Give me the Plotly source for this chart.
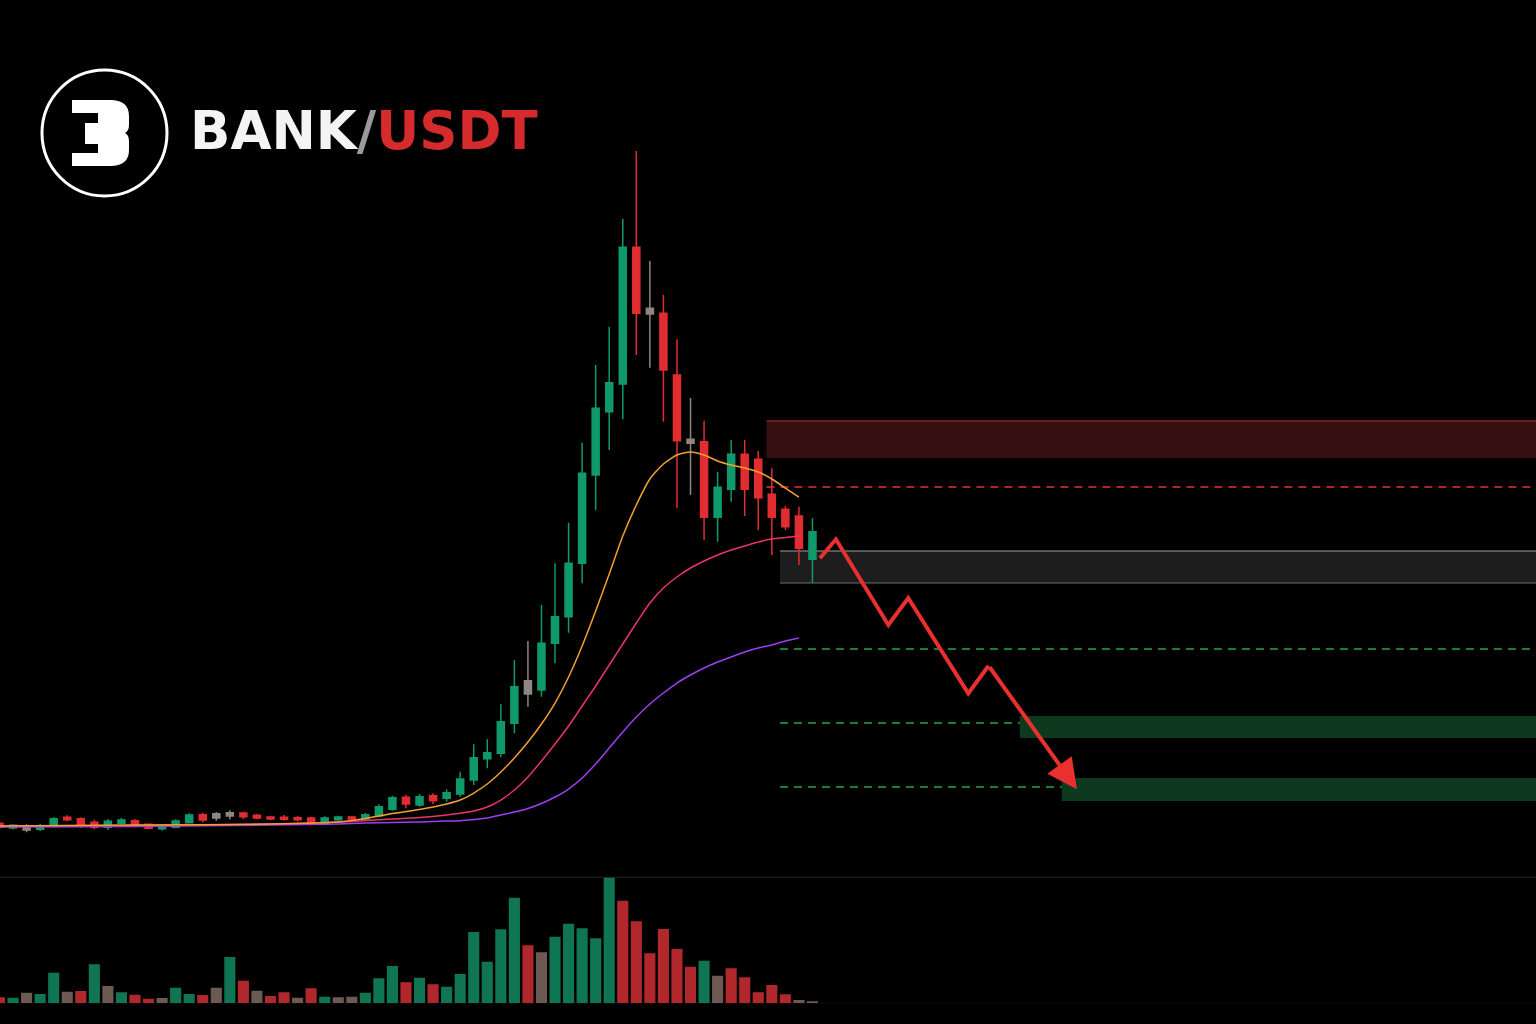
import plotly.graph_objects as go

# ---------------- data (prices in 0.001 USDT, volume in K) ----------------
idx = list(range(61))
open_ = [52.7, 48.0, 49.3, 46.7, 50.3, 58.7, 57.3, 53.7, 48.7, 52.7,
         55.3, 51.7, 47.3, 48.7, 53.3, 61.3, 58.0, 60.0, 63.0, 60.7,
         59.0, 58.7, 58.3, 58.0, 52.0, 56.3, 59.0, 57.0, 60.0, 66.7,
         78.7, 71.0, 80.3, 77.7, 82.0, 96.0, 117.3, 122.7, 152.7, 182.0,
         186.0, 232.7, 259.3, 312.7, 401.0, 464.3, 492.0, 628.7, 567.7, 562.7,
         501.0, 436.7, 434.3, 358.7, 386.7, 421.7, 416.7, 381.7, 366.7, 360.0,
         316.7]
high = [53.7, 51.7, 51.7, 52.0, 58.7, 60.7, 58.7, 56.3, 57.0, 58.0,
        57.0, 52.3, 50.3, 56.7, 62.7, 63.3, 64.0, 65.7, 64.3, 62.0,
        60.3, 61.0, 60.0, 59.3, 59.7, 60.3, 60.0, 63.0, 71.7, 80.3,
        81.0, 82.0, 82.7, 86.7, 104.3, 131.7, 136.7, 171.7, 216.0, 235.0,
        271.0, 312.7, 353.3, 433.3, 511.0, 549.3, 657.0, 725.0, 615.0, 581.0,
        536.7, 478.0, 455.3, 404.3, 436.0, 436.0, 425.0, 407.7, 370.0, 369.3,
        357.7]
low = [47.0, 46.5, 43.7, 45.0, 49.3, 54.7, 48.3, 46.7, 46.0, 51.3,
       48.7, 46.7, 45.3, 47.7, 52.7, 53.7, 55.3, 56.7, 57.0, 56.7,
       55.7, 55.3, 54.7, 50.7, 51.0, 55.0, 56.0, 56.0, 58.7, 65.3,
       67.7, 69.3, 72.0, 74.3, 79.3, 91.0, 107.7, 118.7, 142.7, 169.3,
       179.3, 212.7, 243.3, 292.7, 366.0, 426.0, 456.7, 521.0, 508.3, 454.3,
       367.7, 381.0, 336.0, 334.3, 374.3, 360.0, 346.0, 321.0, 346.0, 311.0,
       293.3]
close = [48.7, 50.7, 46.0, 50.3, 57.3, 56.3, 50.7, 48.7, 54.7, 56.0,
         50.7, 47.7, 49.0, 55.0, 61.0, 56.0, 62.3, 63.3, 59.3, 58.0,
         57.0, 56.7, 56.3, 52.0, 58.0, 59.0, 57.0, 61.3, 69.3, 78.3,
         72.0, 79.3, 75.3, 83.3, 97.0, 118.3, 123.3, 154.3, 189.3, 195.3,
         232.7, 259.3, 312.7, 402.7, 467.7, 493.3, 628.7, 562.7, 562.0, 506.0,
         435.3, 432.7, 358.7, 388.7, 421.7, 386.7, 378.3, 358.7, 349.3, 327.7,
         344.3]
# candle tone: g = up, r = down, n = neutral/doji (greyish)
tone = list("rgnggrrrgg" "rrgggrnnrr" "rrrrggrggg" "rgrggggggn"
            "gggggggrnr" "rnrggrrrrr" "g")

volume = [6, 5.6, 10.6, 9.3, 30.6, 11.6, 12.3, 39, 17.3, 11,
          8.6, 4.6, 5.3, 15.6, 9.3, 8.3, 15.6, 46.3, 22.6, 12.6,
          7.3, 11, 5.6, 15, 6.6, 6, 6.6, 10.6, 25, 37.3,
          21, 25.6, 19, 16.6, 29.3, 71.3, 41.6, 74, 105.6, 58,
          51, 66.6, 79.6, 75, 65, 126, 102.6, 82, 50, 74.3,
          54.3, 36.6, 42.6, 27.6, 35, 26, 11, 18.3, 9, 3.3,
          2]
vol_tone = list("rgnggnrgng" "rrnggrngrn" "rrnrgnnggg" "rgrggggggr"
                "ngggggrrrr" "rrgnrrrrrn" "n")

# moving averages
ma_idx = [0, 10, 20, 25, 27, 29, 31, 33] + list(range(34, 60))
ma_fast = [50, 51, 52, 54, 57.5, 62.5, 66.5, 72, 76, 83, 92, 104, 118, 134, 152, 173,
           199, 230, 265, 302, 340, 371, 397, 412, 421, 424, 421, 415, 411, 408, 404,
           397, 388, 379]
ma_mid = [50, 50.5, 52, 54, 55.5, 57, 58.5, 61, 62.7, 65, 69, 76, 86, 99, 115, 132,
          150, 170, 190, 211, 232, 253, 273, 288, 299, 308, 315, 321, 326, 330, 334,
          337, 338.5, 340]
ma_slow = [49, 49.5, 51, 52, 53, 53.5, 54, 55, 55.3, 56.5, 58, 61, 64, 67.5, 72.5, 79,
           87, 98, 112, 128, 144, 159, 172, 183, 193, 201, 208, 214, 219, 224, 228,
           231, 235, 238]

# levels / zones
resist_zone = [418, 455]
resist_start = 56.6
resist_line = 389
support_zone = [293, 325]
support_start = 57.6
target_lines = [227, 153, 89]
target_start = 57.6
target_zones = [[138, 160], [75, 98]]
target_zone_starts = [75.3, 78.4]

# projected path
path_x = [60.55, 61.73, 65.6, 67.07, 71.5, 73.0]
path_y = [317.7, 336.7, 251, 278, 182.7, 210.3]
arrow_tip = (79.52, 86.7)

X_RANGE = [0.037, 113.4]
Y_RANGE = [0, 876]

GREEN = "#10996a"
RED = "#e12d32"
NEUTRAL = "#8f8680"
VCOL = {"g": "#0f7553", "r": "#b0282c", "n": "#6c5a52"}

fig = go.Figure()

# moving averages
for vals, col in [(ma_slow, "#9b40f2"), (ma_mid, "#e83468"), (ma_fast, "#f2a12e")]:
    fig.add_trace(go.Scatter(x=ma_idx, y=vals, mode="lines",
                             line=dict(color=col, width=1.5, shape="spline", smoothing=0.6),
                             hoverinfo="skip"))

# candles
gr = [i for i in idx if tone[i] != "n"]
nn = [i for i in idx if tone[i] == "n"]
fig.add_trace(go.Candlestick(
    x=gr, open=[open_[i] for i in gr], high=[high[i] for i in gr],
    low=[low[i] for i in gr], close=[close[i] for i in gr],
    increasing=dict(line=dict(color=GREEN, width=1.5), fillcolor=GREEN),
    decreasing=dict(line=dict(color=RED, width=1.5), fillcolor=RED)))
fig.add_trace(go.Candlestick(
    x=nn, open=[open_[i] for i in nn], high=[high[i] for i in nn],
    low=[low[i] for i in nn], close=[close[i] for i in nn],
    increasing=dict(line=dict(color=NEUTRAL, width=1.5), fillcolor=NEUTRAL),
    decreasing=dict(line=dict(color=NEUTRAL, width=1.5), fillcolor=NEUTRAL)))

# volume
fig.add_trace(go.Bar(x=idx, y=volume, marker=dict(color=[VCOL[t] for t in vol_tone], line=dict(width=0)),
                     width=0.82, yaxis="y2"))

# projected zig-zag path
fig.add_trace(go.Scatter(x=path_x, y=path_y, mode="lines",
                         line=dict(color="#e8302f", width=4), hoverinfo="skip"))

shapes = []
# resistance zone
shapes.append(dict(type="rect", xref="x", yref="y", x0=resist_start, x1=X_RANGE[1],
                   y0=resist_zone[0], y1=resist_zone[1], fillcolor="#361010",
                   line=dict(width=0), layer="below"))
shapes.append(dict(type="line", xref="x", yref="y", x0=resist_start, x1=X_RANGE[1],
                   y0=resist_zone[1], y1=resist_zone[1], line=dict(color="#802020", width=1.5), layer="below"))
shapes.append(dict(type="line", xref="x", yref="y", x0=resist_start, x1=X_RANGE[1],
                   y0=resist_line, y1=resist_line, line=dict(color="#e03535", width=1.6, dash="8px,6px"), layer="below"))
# support zone
shapes.append(dict(type="rect", xref="x", yref="y", x0=support_start, x1=X_RANGE[1],
                   y0=support_zone[0], y1=support_zone[1], fillcolor="#1d1d1d",
                   line=dict(width=0), layer="below"))
shapes.append(dict(type="line", xref="x", yref="y", x0=support_start, x1=X_RANGE[1],
                   y0=support_zone[1], y1=support_zone[1], line=dict(color="#a0a0a0", width=1.2), layer="below"))
shapes.append(dict(type="line", xref="x", yref="y", x0=support_start, x1=X_RANGE[1],
                   y0=support_zone[0], y1=support_zone[0], line=dict(color="#707070", width=1.2), layer="below"))
# target lines and zones
for lv in target_lines:
    shapes.append(dict(type="line", xref="x", yref="y", x0=target_start, x1=X_RANGE[1],
                       y0=lv, y1=lv, line=dict(color="#22a84a", width=1.6, dash="8px,6px"), layer="below"))
for (lo, hi), xs in zip(target_zones, target_zone_starts):
    shapes.append(dict(type="rect", xref="x", yref="y", x0=xs, x1=X_RANGE[1],
                       y0=lo, y1=hi, fillcolor="#0d3a1f", line=dict(width=0), layer="below"))
# volume panel separator and baseline
shapes.append(dict(type="line", xref="paper", yref="y2 domain", x0=0, x1=1, y0=1, y1=1,
                   line=dict(color="#262626", width=1)))
shapes.append(dict(type="line", xref="paper", yref="y2", x0=0, x1=1, y0=0, y1=0,
                   line=dict(color="#1c1c1c", width=1), layer="below"))

# logo (decoration, page pixel coords -> paper)
W, H = 1536, 1024
def P(x, y):
    return f"{x / W:.5f},{1 - y / H:.5f}"
shapes.append(dict(type="circle", xref="paper", yref="paper",
                   x0=42 / W, x1=167 / W, y0=1 - 196 / H, y1=1 - 70 / H,
                   line=dict(color="#ffffff", width=3)))
glyph = ("M" + P(72, 100) + " L" + P(110, 100) + " Q" + P(129, 100) + " " + P(129, 116) +
         " L" + P(129, 125) + " Q" + P(129, 131) + " " + P(125, 133) + " Q" + P(129, 135) + " " + P(129, 141) +
         " L" + P(129, 150) + " Q" + P(129, 166) + " " + P(110, 166) + " L" + P(72, 166) + " L" + P(72, 153) +
         " L" + P(98, 153) + " L" + P(98, 144) + " L" + P(85, 144) + " L" + P(85, 123) +
         " L" + P(98, 123) + " L" + P(98, 113) + " L" + P(72, 113) + " Z")
shapes.append(dict(type="path", xref="paper", yref="paper", path=glyph,
                   fillcolor="#ffffff", line=dict(width=0)))

annotations = [
    dict(xref="paper", yref="paper", x=188 / W, y=1 - 130 / H, xanchor="left", yanchor="middle",
         showarrow=False,
         text="BANK<span style='color:#9a9a9a'>/</span><span style='color:#d62b2c'>USDT</span>",
         font=dict(family="DejaVu Sans", size=53, color="#f4f4f4", weight=700)),
    dict(x=arrow_tip[0], y=arrow_tip[1], ax=path_x[-1], ay=path_y[-1], xref="x", yref="y",
         axref="x", ayref="y", text="", showarrow=True, arrowhead=2, arrowsize=1.5,
         arrowwidth=4, arrowcolor="#e8302f", standoff=0),
]

fig.update_layout(
    width=W, height=H, margin=dict(l=0, r=0, t=0, b=0),
    paper_bgcolor="#000000", plot_bgcolor="#000000", showlegend=False,
    boxgap=0.26,
    xaxis=dict(range=X_RANGE, visible=False, rangeslider=dict(visible=False), domain=[0, 1]),
    yaxis=dict(range=Y_RANGE, visible=False, domain=[0.1445, 1.0]),
    yaxis2=dict(range=[0, 126], visible=False, domain=[0.0202, 0.1433], anchor="x"),
    shapes=shapes, annotations=annotations,
)

fig.write_html("out.html")
